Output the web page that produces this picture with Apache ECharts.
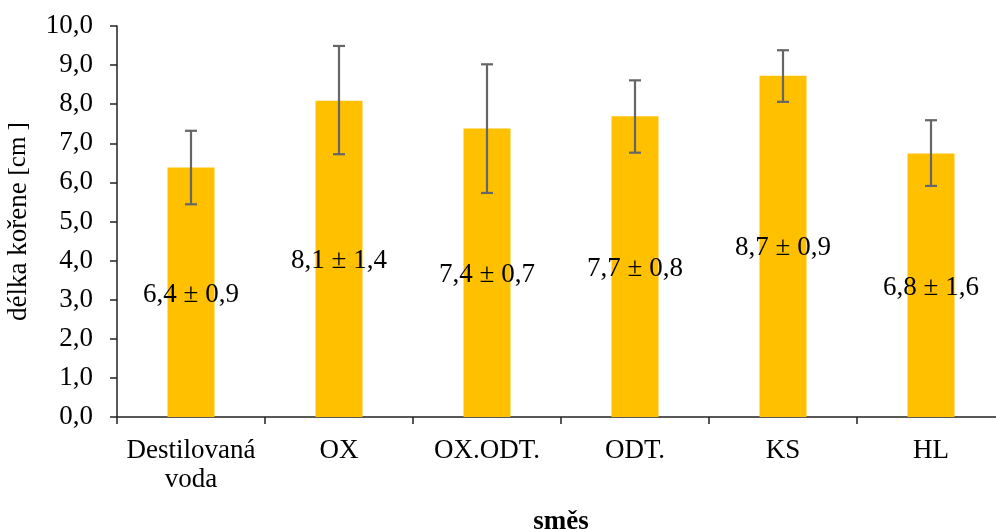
<!DOCTYPE html>
<html>
<head>
<meta charset="utf-8">
<script src="https://cdn.jsdelivr.net/npm/echarts@6/dist/echarts.min.js"></script>
<style>
html,body{margin:0;padding:0;background:#fff;}
#chart{width:996px;height:529px;}
</style>
</head>
<body>
<div id="chart"></div>
<script>
const categories = ['Destilovaná\nvoda', 'OX', 'OX.ODT.', 'ODT.', 'KS', 'HL'];
const means = [6.38, 8.09, 7.38, 7.69, 8.73, 6.74];
const errLow = [5.44, 6.72, 5.73, 6.76, 8.06, 5.91];
const errHigh = [7.32, 9.49, 9.02, 8.61, 9.38, 7.59];
const labelTexts = ['6,4 ± 0,9', '8,1 ± 1,4', '7,4 ± 0,7', '7,7 ± 0,8', '8,7 ± 0,9', '6,8 ± 1,6'];
const labelLevels = [3.11, 3.98, 3.63, 3.80, 4.32, 3.29];
const yTicks = [0, 10, 1];

const serif = '"Liberation Serif", "Times New Roman", serif';
const chart = echarts.init(document.getElementById('chart'));

chart.setOption({
  animation: false,
  grid: { left: 117, right: -9, top: 26, bottom: 112, outerBoundsMode: 'none', containLabel: false },
  xAxis: {
    type: 'category',
    data: categories,
    axisLine: { lineStyle: { color: '#222', width: 1.5 } },
    axisTick: { show: true, length: 7, lineStyle: { color: '#222', width: 1.5 } },
    axisLabel: { color: '#000', fontFamily: serif, fontSize: 27, lineHeight: 29, margin: 19, interval: 0 },
    name: 'směs',
    nameLocation: 'middle',
    nameGap: 92,
    nameTextStyle: { color: '#000', fontFamily: serif, fontSize: 27, fontWeight: 'bold' }
  },
  yAxis: {
    type: 'value',
    min: yTicks[0], max: yTicks[1], interval: yTicks[2],
    splitLine: { show: false },
    axisLine: { show: true, lineStyle: { color: '#222', width: 1.5 } },
    axisTick: { show: true, length: 7, lineStyle: { color: '#222', width: 1.5 } },
    axisLabel: { color: '#000', fontFamily: serif, fontSize: 27, margin: 24,
      formatter: v => v.toFixed(1).replace('.', ',') },
    name: '{a|délka kořene }{b|[cm ]}',
    nameLocation: 'middle',
    nameRotate: 90,
    nameGap: 85,
    nameTextStyle: {
      color: '#000',
      rich: {
        a: { fontFamily: serif, fontSize: 27, color: '#000' },
        b: { fontFamily: serif, fontSize: 25, color: '#000' }
      }
    }
  },
  series: [
    {
      type: 'bar',
      data: means,
      barWidth: 47,
      itemStyle: { color: '#FFC000' },
      z: 1
    },
    {
      type: 'custom',
      data: categories.map((c, i) => [i, errLow[i], errHigh[i]]),
      renderItem: function (params, api) {
        const i = api.value(0);
        const lo = api.coord([i, api.value(1)]);
        const hi = api.coord([i, api.value(2)]);
        const hw = 6;
        const style = { stroke: '#666', lineWidth: 2.2 };
        return {
          type: 'group',
          children: [
            { type: 'line', shape: { x1: lo[0], y1: lo[1], x2: hi[0], y2: hi[1] }, style },
            { type: 'line', shape: { x1: lo[0] - hw, y1: lo[1], x2: lo[0] + hw, y2: lo[1] }, style },
            { type: 'line', shape: { x1: hi[0] - hw, y1: hi[1], x2: hi[0] + hw, y2: hi[1] }, style }
          ]
        };
      },
      z: 3
    },
    {
      type: 'custom',
      data: categories.map((c, i) => [i, labelLevels[i]]),
      renderItem: function (params, api) {
        const i = api.value(0);
        const p = api.coord([i, api.value(1)]);
        return {
          type: 'text',
          x: p[0], y: p[1],
          style: {
            text: labelTexts[params.dataIndex],
            fill: '#000',
            font: '27px ' + serif,
            align: 'center',
            verticalAlign: 'middle'
          }
        };
      },
      z: 4
    }
  ]
});
</script>
</body>
</html>
